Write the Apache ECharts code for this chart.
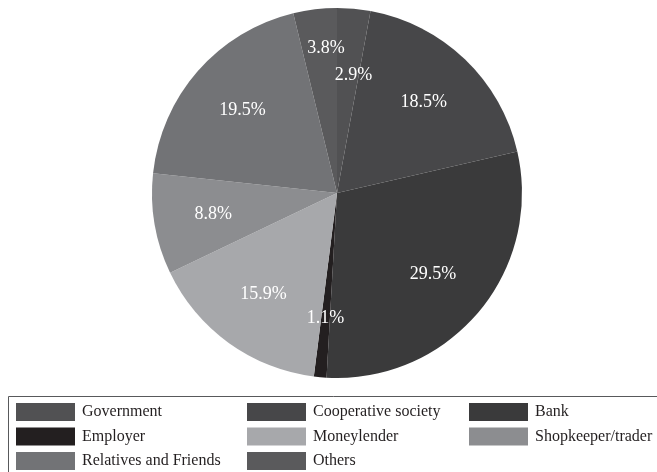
<!DOCTYPE html>
<html>
<head>
<meta charset="utf-8">
<script src="https://cdn.jsdelivr.net/npm/echarts@6/dist/echarts.min.js"></script>
<style>
  html, body { margin: 0; padding: 0; background: #ffffff; }
  #chart { width: 657px; height: 472px; }
</style>
</head>
<body>
<div id="chart"></div>
<script>
// Sources of credit, share of borrowers (%)
var categories = ['Government', 'Cooperative society', 'Bank', 'Employer',
                  'Moneylender', 'Shopkeeper/trader', 'Relatives and Friends', 'Others'];
var shares = [2.9, 18.5, 29.5, 1.1, 15.9, 8.8, 19.5, 3.8];
var colors = ['#515153', '#474749', '#3a3a3b', '#231f20',
              '#a7a8ab', '#8c8d90', '#727376', '#5a5a5c'];

// legend columns (indices into categories)
var legendColumns = [[0, 3, 6], [1, 4, 7], [2, 5]];
var legendLeft = [16, 247, 469];

// nudges for the two narrow slices at the top so their labels don't collide
var labelNudge = { 'Government': [5, 7], 'Others': [4, -20] };

var pieData = categories.map(function (name, i) {
  return { name: name, value: shares[i], itemStyle: { color: colors[i] } };
});

var serif = '"Liberation Serif", "DejaVu Serif", serif';

var legends = legendColumns.map(function (col, c) {
  return {
    orient: 'vertical',
    left: legendLeft[c],
    top: 403,
    padding: 0,
    itemWidth: 59,
    itemHeight: 18,
    itemGap: 6.5,
    icon: 'rect',
    selectedMode: false,
    data: col.map(function (i) { return categories[i]; }),
    textStyle: { fontFamily: serif, fontSize: 16, color: '#231f20', padding: [0, 0, 0, 2] }
  };
});

var chart = echarts.init(document.getElementById('chart'), null, { renderer: 'canvas' });
chart.setOption({
  backgroundColor: '#ffffff',
  animation: false,
  legend: legends,
  graphic: [{
    type: 'rect',
    shape: { x: 8.5, y: 396.5, width: 700, height: 120 },
    style: { fill: 'none', stroke: '#58595b', lineWidth: 1 },
    silent: true,
    z: -1
  }],
  series: [
    {
      type: 'pie',
      center: [337, 193],
      radius: [0, 185],
      startAngle: 90,
      clockwise: true,
      data: pieData,
      label: { show: false },
      labelLine: { show: false },
      itemStyle: { borderWidth: 0 },
      emphasis: { disabled: true }
    },
    {
      // transparent ring carrying the percentage labels
      type: 'pie',
      center: [337, 193],
      radius: [60, 185],
      startAngle: 90,
      clockwise: true,
      silent: true,
      avoidLabelOverlap: false,
      labelLayout: { hideOverlap: false },
      data: pieData.map(function (d) {
        var item = { name: d.name, value: d.value };
        if (labelNudge[d.name]) item.label = { offset: labelNudge[d.name] };
        return item;
      }),
      itemStyle: { color: 'rgba(0,0,0,0)' },
      label: {
        show: true,
        position: 'inside',
        formatter: function (p) { return p.value.toFixed(1) + '%'; },
        fontFamily: serif,
        fontSize: 18,
        color: '#ffffff'
      },
      labelLine: { show: false },
      emphasis: { disabled: true }
    }
  ]
});
</script>
</body>
</html>
